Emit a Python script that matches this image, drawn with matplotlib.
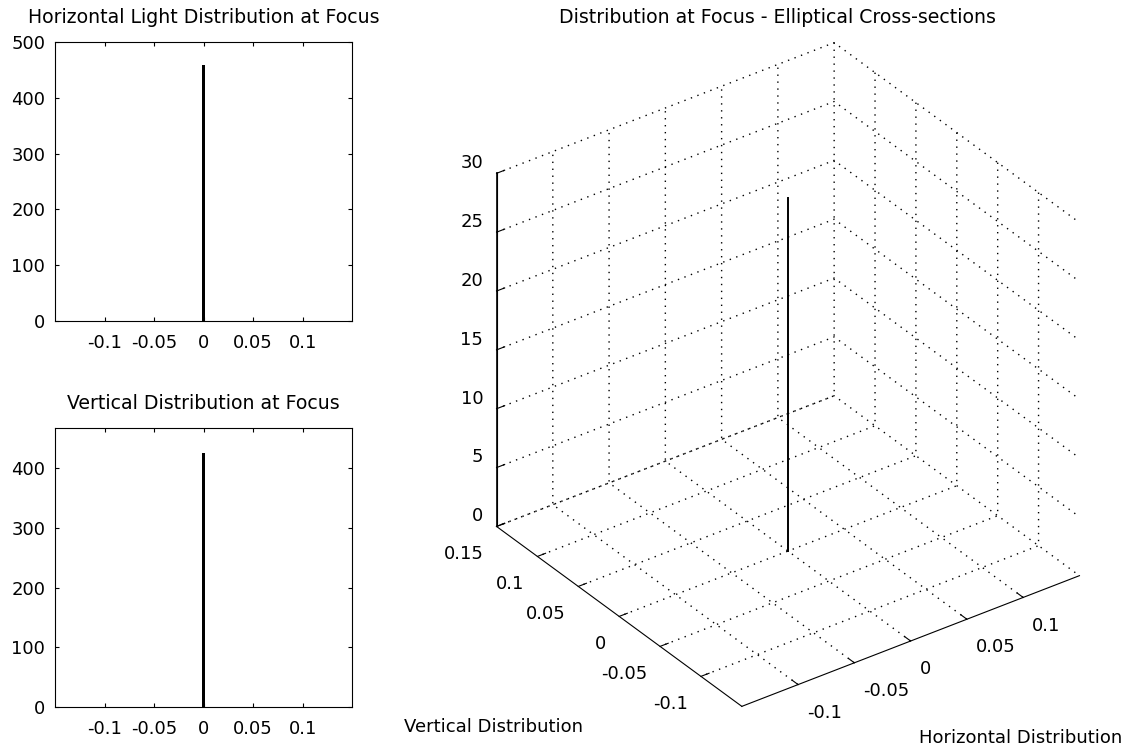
import matplotlib.pyplot as plt
import numpy as np

plt.rcParams.update({'font.family': 'DejaVu Sans', 'font.size': 13})

# histogram of ray hits across the focal plane
h_centres = [0.0]
h_counts = [458]
v_centres = [0.0]
v_counts = [425]

# 2-d histogram: a single column at the origin
col_h = [0.0]
col_v = [0.0]
col_count = [30]

xy_ticks = [-0.1, -0.05, 0, 0.05, 0.1]
xy_labels = ['-0.1', '-0.05', '0', '0.05', '0.1']
v_ticks = [-0.1, -0.05, 0, 0.05, 0.1, 0.15]
v_labels = ['-0.1', '-0.05', '0', '0.05', '0.1', '0.15']
z_ticks = [0, 5, 10, 15, 20, 25, 30]

fig = plt.figure(figsize=(11.34, 7.5), dpi=100)


def hist_axes(rect, centres, counts, title, ymax, yticks):
    ax = fig.add_axes(rect)
    ax.bar(centres, counts, width=0.003, color='k')
    ax.set_xlim(-0.15, 0.15)
    ax.set_ylim(0, ymax)
    ax.set_xticks(xy_ticks, xy_labels)
    ax.set_yticks(yticks)
    ax.tick_params(direction='in', length=3, top=True, right=True)
    ax.tick_params(axis='x', pad=9)
    ax.tick_params(axis='y', pad=7)
    ax.set_title(title, fontsize=13.6, pad=14)
    return ax


hist_axes([0.0485, 0.572, 0.262, 0.372], h_centres, h_counts,
          'Horizontal Light Distribution at Focus', 500, [0, 100, 200, 300, 400, 500])
hist_axes([0.0485, 0.0573, 0.262, 0.372], v_centres, v_counts,
          'Vertical Distribution at Focus', 467, [0, 100, 200, 300, 400])

ax3 = fig.add_axes([0.3765, 0.013, 0.62, 0.95], projection='3d', proj_type='ortho')
ax3.view_init(elev=32.2, azim=-126)
ax3.set_box_aspect((1, 1, 1), zoom=0.998)
for c_h, c_v, n in zip(col_h, col_v, col_count):
    ax3.plot([c_h, c_h], [c_v, c_v], [0, n], color='k', linewidth=1.4)
ax3.set_xlim(-0.15, 0.15)
ax3.set_ylim(-0.15, 0.15)
ax3.set_zlim(0, 30)
# solid z axis on the left corner of the box
ax3.plot([-0.15, -0.15], [0.15, 0.15], [0, 30], color='k', linewidth=1.2)
ax3.set_xticks(xy_ticks, xy_labels, ha='left')
ax3.set_yticks(v_ticks, v_labels, ha='right')
ax3.set_zticks(z_ticks, [str(z) for z in z_ticks], ha='right', va='bottom')
for axis in (ax3.xaxis, ax3.yaxis, ax3.zaxis):
    axis.set_pane_color((1, 1, 1, 0))
    axis.pane.set_edgecolor((1, 1, 1, 0))
    axis._axinfo['grid'].update(color='k', linestyle=(0, (1, 4)), linewidth=1.0)
    axis._axinfo['tick'].update(inward_factor=0.0, outward_factor=0.3)
    axis._axinfo['axisline'].update(color='k', linewidth=1.0)
    axis.line.set_color('k')
ax3.tick_params(axis='x', pad=1.5)
ax3.tick_params(axis='y', pad=2)
ax3.tick_params(axis='z', pad=-2)
fig.text(0.686, 0.977, 'Distribution at Focus - Elliptical Cross-sections',
         ha='center', va='center', fontsize=13.6)
fig.text(0.356, 0.031, 'Vertical Distribution', fontsize=13, va='center')
fig.text(0.990, 0.016, 'Horizontal Distribution', fontsize=13, ha='right', va='center')

fig.savefig('out.png', dpi=100)
